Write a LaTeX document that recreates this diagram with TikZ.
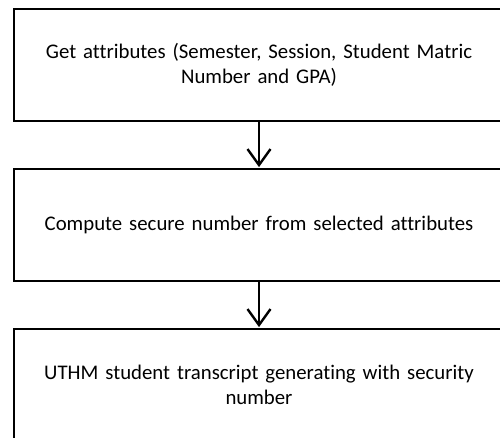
\documentclass[tikz,border=0pt]{standalone}
\usepackage{fontspec}
\setmainfont{Carlito}[Ligatures=NoCommon]
\usetikzlibrary{arrows.meta}
\tikzset{
  stepbox/.style={draw=black, line width=1.8pt, rectangle, minimum width=490pt,
    minimum height=112pt, text width=470pt, align=center, inner sep=0pt,
    font=\fontsize{20.8}{24.5}\selectfont},
  flow/.style={line width=2.4pt, -{Straight Barb[length=16pt,width=23pt]}, shorten >=1pt}
}
\begin{document}
\begin{tikzpicture}[x=1pt, y=-1pt]
  \useasboundingbox (0,0) rectangle (500,438);
  \clip (0,0) rectangle (500,438);
  \node[stepbox] (get) at (259,65) {Get attributes (Semester, Session, Student Matric\\Number and GPA)};
  \node[stepbox] (compute) at (259,225) {Compute secure number from selected attributes};
  \node[stepbox] (transcript) at (259,385) {UTHM student transcript generating with security\\number};
  \draw[flow] (get.south) -- (compute.north);
  \draw[flow] (compute.south) -- (transcript.north);
\end{tikzpicture}
\end{document}
